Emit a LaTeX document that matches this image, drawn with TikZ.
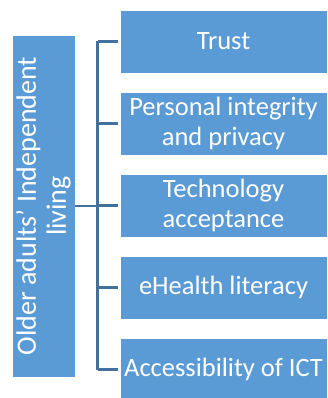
\documentclass[tikz,border=0pt]{standalone}
\usepackage{fontspec}
\setmainfont{Carlito}
\definecolor{boxblue}{HTML}{5B9BD5}
\definecolor{lineblue}{HTML}{41719C}
\tikzset{
  factor/.style={fill=boxblue, draw=white, line width=0.6pt, text=white,
    minimum width=207pt, minimum height=63pt, align=center, inner sep=1pt,
    font=\fontsize{26.5}{30}\selectfont},
  link/.style={draw=lineblue, line width=2.2pt}
}
\begin{document}
\begin{tikzpicture}[x=1pt, y=-1pt]
\useasboundingbox (0,0) rectangle (328,398);

% Main box
\node[fill=boxblue, draw=white, line width=0.6pt, text=white, rotate=90,
  minimum width=342pt, minimum height=63pt, align=center, inner sep=1pt,
  font=\fontsize{28}{30}\selectfont] (living) at (43.5,206)
  {Older adults’ Independent\\living};

% Factors
\node[factor] (trust) at (223.5,41.5) {Trust};
\node[factor] (privacy) at (223.5,123.5) {Personal integrity\\and privacy};
\node[factor] (accept) at (223.5,205.5) {Technology\\acceptance};
\node[factor] (ehealth) at (223.5,287.5) {eHealth literacy};
\node[factor] (ict) at (223.5,369.5) {Accessibility of ICT};

% Bracket
\coordinate (bus) at (97.5,206);
\draw[link] (living.south) -- (bus);
\draw[link] (bus |- trust.west) -- (bus |- ict.west);
\draw[link] (bus |- trust.west) -- ([xshift=-2pt]trust.west);
\draw[link] (bus |- privacy.west) -- ([xshift=-2pt]privacy.west);
\draw[link] (bus |- accept.west) -- ([xshift=-2pt]accept.west);
\draw[link] (bus |- ehealth.west) -- ([xshift=-2pt]ehealth.west);
\draw[link] (bus |- ict.west) -- ([xshift=-2pt]ict.west);

\end{tikzpicture}
\end{document}
